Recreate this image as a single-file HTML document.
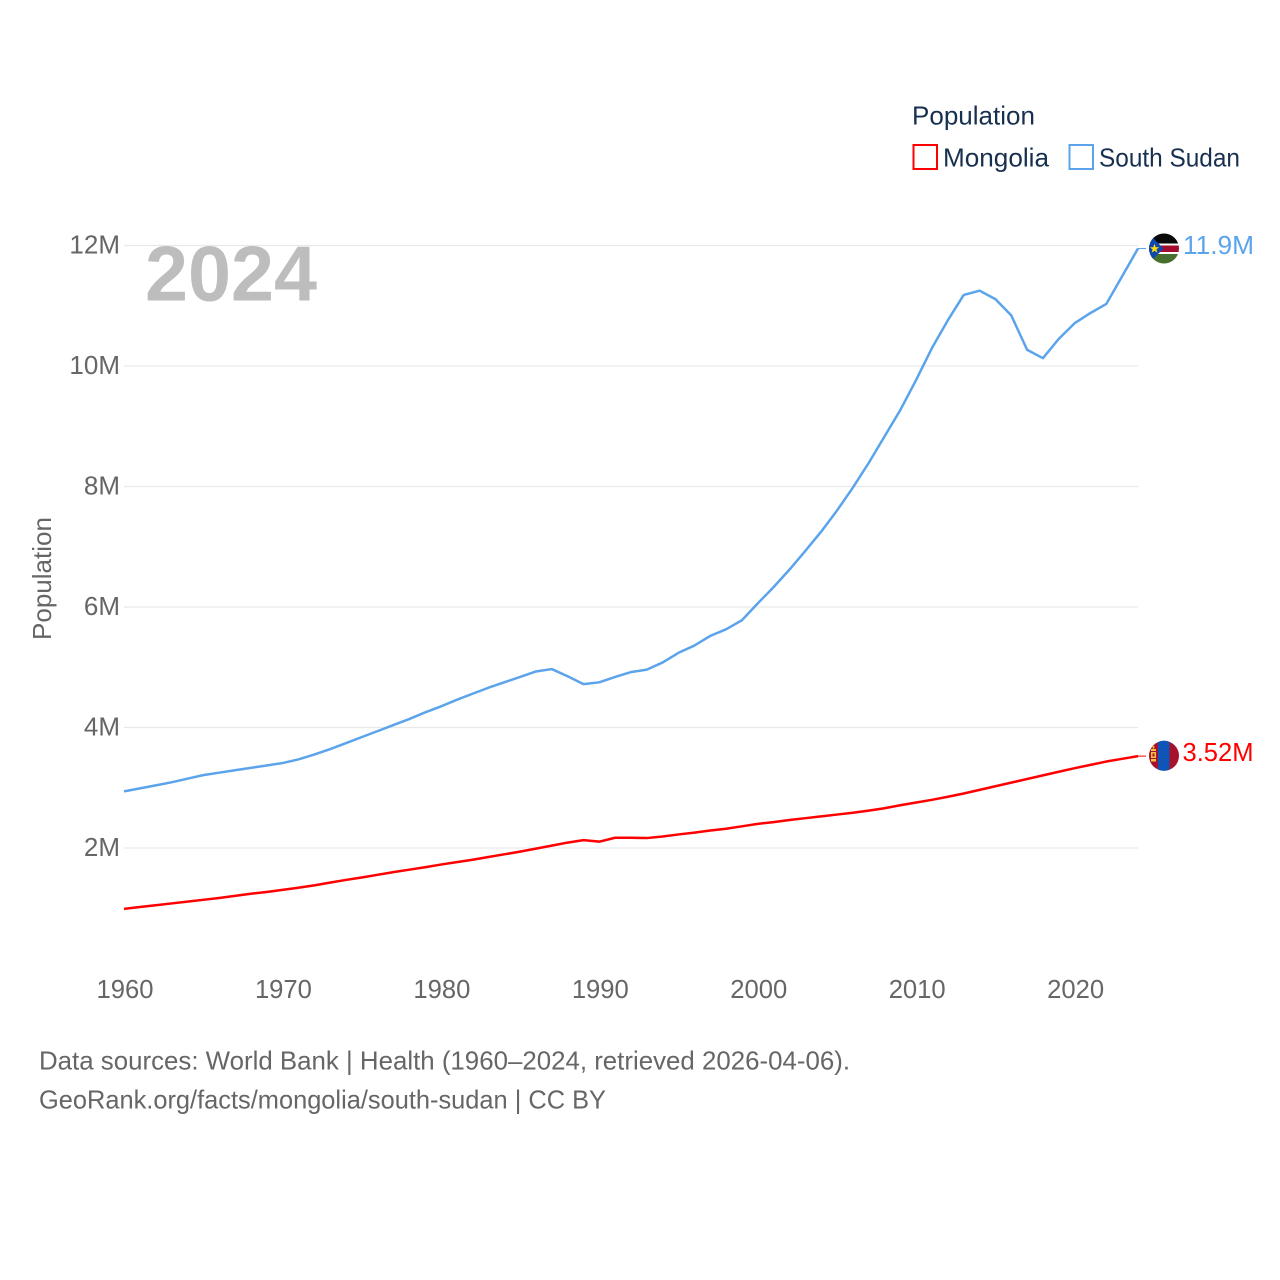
<!DOCTYPE html>
<html lang="en">
<head>
<meta charset="utf-8">
<title>Population: Mongolia and South Sudan</title>
<style>
  html, body { margin: 0; padding: 0; background: #fff; }
  svg { display: block; }
  text { font-family: "Liberation Sans", sans-serif; }
</style>
</head>
<body>
<svg id="chart" xmlns="http://www.w3.org/2000/svg" width="1280" height="1280" viewBox="0 0 1280 1280">
  <defs>
    <clipPath id="clip-ss"><circle cx="1164" cy="248.5" r="15"></circle></clipPath>
    <clipPath id="clip-mn"><circle cx="1164" cy="755.8" r="15"></circle></clipPath>
  </defs>
  <rect width="1280" height="1280" fill="#ffffff"></rect>
  <g id="grid"></g>
  <g id="y-ticks"></g>
  <g id="x-ticks"></g>
  <text x="145" y="300.5" font-size="78" font-weight="700" fill="#bdbdbd" textLength="172" lengthAdjust="spacingAndGlyphs">2024</text>
  <text transform="translate(51,640) rotate(-90)" font-size="26" fill="#666666" textLength="123" lengthAdjust="spacingAndGlyphs">Population</text>
  <g id="series"></g>

  <g>
    <text x="912" y="124.5" font-size="26" fill="#18304f" textLength="123" lengthAdjust="spacingAndGlyphs">Population</text>
    <rect x="913.5" y="145" width="23.5" height="24" fill="#ffffff" stroke="#ff0000" stroke-width="2"></rect>
    <text x="943" y="166.5" font-size="26" fill="#18304f" textLength="106" lengthAdjust="spacingAndGlyphs">Mongolia</text>
    <rect x="1069.5" y="145" width="23.5" height="24" fill="#ffffff" stroke="#5ba4ec" stroke-width="2"></rect>
    <text x="1099" y="166.5" font-size="26" fill="#18304f" textLength="141" lengthAdjust="spacingAndGlyphs">South Sudan</text>
  </g>

  <g clip-path="url(#clip-ss)">
    <rect x="1149" y="233" width="30" height="10.5" fill="#0a0a0a"></rect>
    <rect x="1149" y="243.5" width="30" height="2" fill="#ffffff"></rect>
    <rect x="1149" y="245.5" width="30" height="6.5" fill="#a50b2e"></rect>
    <rect x="1149" y="252" width="30" height="2" fill="#ffffff"></rect>
    <rect x="1149" y="254" width="30" height="10" fill="#47702e"></rect>
    <polygon points="1148,233 1163.5,248.5 1148,264" fill="#0f47af"></polygon>
    <polygon points="1154.5,243.8 1155.7,247.2 1159.2,247.2 1156.4,249.4 1157.4,252.8 1154.5,250.8 1151.6,252.8 1152.6,249.4 1149.8,247.2 1153.3,247.2" fill="#fcdd09"></polygon>
  </g>
  <g clip-path="url(#clip-mn)">
    <rect x="1149" y="740" width="30" height="32" fill="#a6122d"></rect>
    <rect x="1158" y="740" width="11.5" height="32" fill="#0f55b8"></rect>
    <rect x="1151" y="749" width="5" height="2" fill="#f6c33c"></rect>
    <rect x="1151" y="752" width="5" height="6" fill="#f6c33c"></rect>
    <rect x="1152.5" y="753.5" width="2" height="3" fill="#a6122d"></rect>
    <rect x="1151" y="759" width="5" height="2.5" fill="#f6c33c"></rect>
    <rect x="1152.7" y="746" width="1.6" height="2.5" fill="#f6c33c"></rect>
  </g>
  <text x="1183" y="254" font-size="26" fill="#5ba4ec" textLength="71" lengthAdjust="spacingAndGlyphs">11.9M</text>
  <text x="1182.5" y="761" font-size="26" fill="#ff0000" textLength="71" lengthAdjust="spacingAndGlyphs">3.52M</text>

  <g>
    <text x="39" y="1069.5" font-size="26" fill="#666666" textLength="811" lengthAdjust="spacingAndGlyphs">Data sources: World Bank | Health (1960–2024, retrieved 2026-04-06).</text>
    <text x="39" y="1108.5" font-size="26" fill="#666666" textLength="567" lengthAdjust="spacingAndGlyphs">GeoRank.org/facts/mongolia/south-sudan | CC BY</text>
  </g>
</svg>
<script>
const years = [1960,1961,1962,1963,1964,1965,1966,1967,1968,1969,1970,1971,1972,1973,1974,1975,1976,1977,1978,1979,1980,1981,1982,1983,1984,1985,1986,1987,1988,1989,1990,1991,1992,1993,1994,1995,1996,1997,1998,1999,2000,2001,2002,2003,2004,2005,2006,2007,2008,2009,2010,2011,2012,2013,2014,2015,2016,2017,2018,2019,2020,2021,2022,2023,2024];
const southSudan = [2.94,2.99,3.04,3.09,3.15,3.21,3.25,3.29,3.33,3.37,3.41,3.47,3.55,3.64,3.74,3.84,3.94,4.04,4.14,4.25,4.35,4.46,4.56,4.66,4.75,4.84,4.93,4.97,4.85,4.72,4.75,4.84,4.92,4.96,5.08,5.24,5.36,5.52,5.63,5.78,6.06,6.33,6.62,6.93,7.25,7.60,7.98,8.39,8.83,9.27,9.77,10.30,10.76,11.18,11.25,11.11,10.84,10.27,10.13,10.45,10.71,10.88,11.03,11.49,11.95];
const mongolia = [0.99,1.02,1.05,1.08,1.11,1.14,1.17,1.205,1.24,1.27,1.305,1.34,1.38,1.425,1.47,1.51,1.555,1.60,1.64,1.68,1.725,1.765,1.805,1.85,1.895,1.94,1.99,2.04,2.09,2.13,2.105,2.17,2.17,2.165,2.19,2.225,2.255,2.29,2.32,2.36,2.40,2.43,2.465,2.495,2.525,2.555,2.585,2.62,2.66,2.71,2.755,2.80,2.85,2.905,2.965,3.025,3.085,3.145,3.205,3.265,3.325,3.38,3.435,3.48,3.525];
const yTickValues = [2,4,6,8,10,12];
const yTickLabels = ["2M","4M","6M","8M","10M","12M"];
const xTickValues = [1960,1970,1980,1990,2000,2010,2020];
const xTickLabels = ["1960","1970","1980","1990","2000","2010","2020"];

const SVG_NS = "http://www.w3.org/2000/svg";
function xScale(year) { return 124 + (year - 1960) * (1138 - 124) / (2024 - 1960); }
function yScale(millions) { return 968.5 - millions * 60.25; }
function make(tag, attrs, parent) {
  const el = document.createElementNS(SVG_NS, tag);
  for (const k in attrs) el.setAttribute(k, attrs[k]);
  parent.appendChild(el);
  return el;
}
const gridGroup = document.getElementById("grid");
const yGroup = document.getElementById("y-ticks");
const xGroup = document.getElementById("x-ticks");
const seriesGroup = document.getElementById("series");

yTickValues.forEach(function (v, i) {
  const line = make("line", { x1: 124, x2: 1138, y1: yScale(v), y2: yScale(v), stroke: "#e9e9e9", "stroke-width": 1.2 }, gridGroup);
  
  
  const label = make("text", { x: 120, y: yScale(v) + 8, "font-size": 26, fill: "#666666", "text-anchor": "end" }, yGroup);
  
  
  label.textContent = yTickLabels[i];
});
xTickValues.forEach(function (v, i) {
  const label = make("text", { x: xScale(v) + 1, y: 998, "font-size": 26, fill: "#666666", "text-anchor": "middle", textLength: 57, lengthAdjust: "spacingAndGlyphs" }, xGroup);
  
  
  label.textContent = xTickLabels[i];
});
function linePoints(values) {
  return values.map(function (v, i) { return xScale(years[i]).toFixed(2) + "," + yScale(v).toFixed(2); }).join(" ");
}
const southLine = make("polyline", { points: linePoints(southSudan), fill: "none", stroke: "#5ba4ec", "stroke-width": 2.5, "stroke-linejoin": "round" }, seriesGroup);


const mongoliaLine = make("polyline", { points: linePoints(mongolia), fill: "none", stroke: "#ff0000", "stroke-width": 2.5, "stroke-linejoin": "round" }, seriesGroup);



const lastIndex = years.length - 1;
const southConnector = make("line", { x1: xScale(years[lastIndex]), x2: 1146, y1: yScale(southSudan[lastIndex]), y2: yScale(southSudan[lastIndex]), stroke: "#5ba4ec", "stroke-width": 1 }, seriesGroup);


const mongoliaConnector = make("line", { x1: xScale(years[lastIndex]), x2: 1146, y1: yScale(mongolia[lastIndex]), y2: yScale(mongolia[lastIndex]), stroke: "#ff0000", "stroke-width": 1 }, seriesGroup);


</script>
</body>
</html>
